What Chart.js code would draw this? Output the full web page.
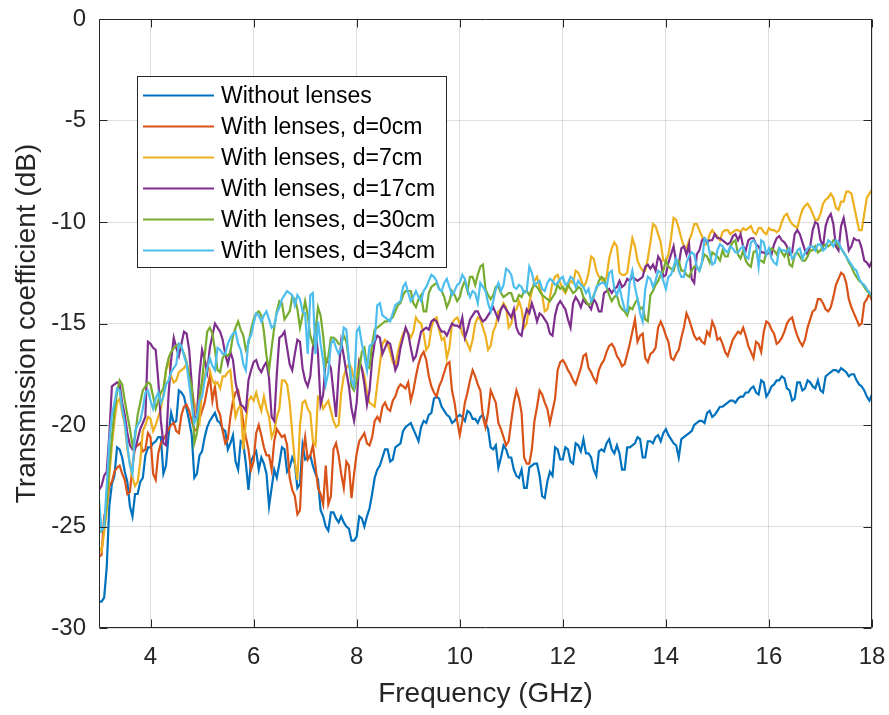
<!DOCTYPE html>
<html><head><meta charset="utf-8">
<script src="https://cdn.jsdelivr.net/npm/chart.js@4/dist/chart.umd.min.js"></script>
<style>html,body{margin:0;padding:0;background:#fff}canvas{display:block}</style>
</head><body>
<canvas id="c" width="889" height="715"></canvas>
<script>
// ---- data: frequencies (GHz) ----
const FREQ = [3.0,3.1,3.2,3.3,3.4,3.5,3.6,3.7,3.8,3.9,4.0,4.1,4.2,4.3,4.4,4.5,4.6,4.7,4.8,4.9,
5.0,5.1,5.2,5.3,5.4,5.5,5.6,5.7,5.8,5.9,6.0,6.1,6.2,6.3,6.4,6.5,6.6,6.7,6.8,6.9,
7.0,7.1,7.2,7.3,7.4,7.5,7.6,7.7,7.8,7.9,8.0,8.1,8.2,8.3,8.4,8.5,8.6,8.7,8.8,8.9,
9.0,9.1,9.2,9.3,9.4,9.5,9.6,9.7,9.8,9.9,10.0,10.1,10.2,10.3,10.4,10.5,10.6,10.7,10.8,10.9,
11.0,11.1,11.2,11.3,11.4,11.5,11.6,11.7,11.8,11.9,12.0,12.1,12.2,12.3,12.4,12.5,12.6,12.7,12.8,12.9,
13.0,13.1,13.2,13.3,13.4,13.5,13.6,13.7,13.8,13.9,14.0,14.1,14.2,14.3,14.4,14.5,14.6,14.7,14.8,14.9,
15.0,15.1,15.2,15.3,15.4,15.5,15.6,15.7,15.8,15.9,16.0,16.1,16.2,16.3,16.4,16.5,16.6,16.7,16.8,16.9,
17.0,17.1,17.2,17.3,17.4,17.5,17.6,17.7,17.8,17.9,18.0];

const FREQ_MID = [3.05,3.15,3.25,3.35,3.45,3.55,3.65,3.75,3.85,3.95,4.05,4.15,4.25,4.35,4.45,4.55,4.65,4.75,4.85,4.95,
5.05,5.15,5.25,5.35,5.45,5.55,5.65,5.75,5.85,5.95,6.05,6.15,6.25,6.35,6.45,6.55,6.65,6.75,6.85,6.95,
7.05,7.15,7.25,7.35,7.45,7.55,7.65,7.75,7.85,7.95,8.05,8.15,8.25,8.35,8.45,8.55,8.65,8.75,8.85,8.95,
9.05,9.15,9.25,9.35,9.45,9.55,9.65,9.75,9.85,9.95,10.05,10.15,10.25,10.35,10.45,10.55,10.65,10.75,10.85,10.95,
11.05,11.15,11.25,11.35,11.45,11.55,11.65,11.75,11.85,11.95,12.05,12.15,12.25,12.35,12.45,12.55,12.65,12.75,12.85,12.95,
13.05,13.15,13.25,13.35,13.45,13.55,13.65,13.75,13.85,13.95,14.05,14.15,14.25,14.35,14.45,14.55,14.65,14.75,14.85,14.95,
15.05,15.15,15.25,15.35,15.45,15.55,15.65,15.75,15.85,15.95,16.05,16.15,16.25,16.35,16.45,16.55,16.65,16.75,16.85,16.95,
17.05,17.15,17.25,17.35,17.45,17.55,17.65,17.75,17.85,17.95];

const X_TICKS = [4,6,8,10,12,14,16,18];
const Y_TICKS = [0,-5,-10,-15,-20,-25,-30];

const SERIES_LABELS = ['Without lenses','With lenses, d=0cm','With lenses, d=7cm','With lenses, d=17cm','With lenses, d=30cm','With lenses, d=34cm'];

// ---- Without lenses (dB) ----
const WITHOUT_LENSES = [-28.7,-28.5,-24.0,-22.5,-21.2,-22.3,-24.0,-23.4,-22.8,-21.5,
-21.1,-20.8,-20.6,-22.0,-19.4,-19.8,-18.4,-19.2,-20.5,-22.4,
-21.3,-20.1,-19.6,-19.8,-20.2,-21.2,-20.5,-22.2,-20.9,-23.2,
-21.5,-22.2,-21.9,-24.0,-22.2,-21.9,-21.2,-22.1,-21.9,-22.9,
-21.7,-21.5,-22.4,-24.2,-25.0,-24.3,-24.6,-24.5,-25.0,-25.7,
-25.5,-24.6,-24.5,-23.4,-22.2,-21.6,-21.2,-21.7,-21.0,-20.3,
-20.0,-20.2,-20.8,-19.8,-19.5,-18.7,-18.7,-19.3,-19.6,-19.8,
-19.5,-19.8,-19.4,-19.7,-19.6,-19.9,-21.1,-21.0,-21.6,-21.2,
-21.6,-22.5,-22.2,-23.1,-22.0,-21.9,-23.5,-22.8,-22.5,-21.2,
-21.7,-21.2,-21.9,-21.0,-20.7,-21.4,-22.2,-21.3,-21.3,-20.7,
-21.4,-21.4,-22.2,-21.1,-20.9,-20.7,-21.6,-20.8,-20.6,-20.8,
-20.2,-20.7,-21.0,-20.7,-20.5,-20.3,-19.9,-19.8,-19.4,-19.6,
-19.3,-19.1,-18.9,-18.8,-18.7,-18.6,-18.4,-18.1,-18.5,-17.9,
-18.4,-18.0,-17.8,-17.7,-18.3,-18.7,-17.9,-18.2,-17.9,-18.2,
-18.3,-17.6,-17.4,-17.3,-17.2,-17.4,-17.5,-17.8,-18.1,-18.6,
-18.5];
const WITHOUT_LENSES_MID = [-28.7,-27.0,-22.9,-21.1,-21.6,-22.8,-24.5,-23.4,-22.6,-21.1,
-20.9,-20.6,-22.4,-20.5,-19.9,-18.3,-18.6,-19.8,-22.6,-21.5,
-20.6,-19.8,-19.4,-19.9,-20.3,-20.9,-21.8,-20.8,-21.9,-21.8,
-21.3,-21.6,-22.4,-23.1,-22.6,-21.1,-22.3,-21.6,-23.1,-21.0,
-21.6,-22.0,-22.7,-24.5,-25.2,-24.3,-24.8,-24.8,-25.1,-25.7,
-24.5,-25.0,-24.1,-22.6,-22.0,-21.2,-21.8,-21.1,-20.9,-20.1,
-19.9,-20.5,-20.1,-19.9,-19.4,-18.6,-19.1,-19.5,-19.9,-19.6,
-19.6,-19.3,-19.7,-19.9,-19.5,-20.2,-21.2,-22.1,-21.0,-21.6,
-22.2,-22.6,-23.1,-22.1,-21.9,-22.5,-23.6,-22.3,-21.1,-21.7,
-21.1,-21.8,-20.9,-21.3,-21.4,-21.6,-22.5,-21.2,-20.9,-21.2,
-21.0,-22.2,-21.1,-21.0,-20.6,-21.6,-20.8,-20.9,-20.5,-20.4,
-20.5,-20.9,-21.6,-20.6,-20.4,-20.0,-19.8,-19.9,-19.3,-19.5,
-19.1,-19.0,-18.8,-18.9,-18.6,-18.4,-18.2,-18.4,-17.8,-18.6,
-18.1,-17.8,-17.6,-18.2,-18.8,-17.9,-18.3,-17.8,-18.1,-17.8,
-18.4,-17.5,-17.3,-17.4,-17.3,-17.6,-17.5,-18.0,-18.3,-18.8];

// ---- With lenses, d=0cm ----
const LENS_D0 = [-26.5,-24.5,-23.0,-22.3,-22.0,-22.7,-23.3,-21.1,-20.9,-21.2,
-20.6,-22.7,-20.9,-20.5,-20.0,-20.3,-19.5,-19.0,-19.8,-20.3,
-19.3,-18.2,-18.8,-19.2,-20.3,-20.7,-18.8,-18.3,-19.9,-21.2,
-21.8,-20.0,-21.1,-21.5,-20.8,-20.4,-20.5,-22.6,-23.5,-24.2,
-20.6,-21.5,-22.0,-23.4,-22.0,-23.5,-20.9,-22.4,-21.8,-23.6,
-21.4,-20.6,-20.9,-20.6,-19.6,-19.1,-19.2,-18.8,-18.2,-18.1,
-17.9,-18.3,-17.0,-16.4,-17.6,-18.4,-18.1,-17.4,-16.9,-18.9,
-20.5,-18.9,-17.8,-17.6,-18.3,-20.1,-18.3,-18.9,-20.2,-21.0,
-19.8,-18.3,-19.4,-21.9,-21.2,-19.1,-18.5,-19.2,-19.3,-17.3,
-16.8,-17.3,-17.8,-17.6,-16.6,-17.2,-17.7,-17.3,-16.8,-16.1,
-16.2,-16.8,-17.0,-16.0,-14.8,-15.6,-16.7,-16.5,-16.2,-14.9,
-15.6,-16.7,-16.5,-15.7,-14.5,-15.2,-15.8,-15.9,-15.4,-14.9,
-15.8,-16.0,-16.6,-15.8,-15.4,-15.2,-16.1,-16.7,-16.0,-15.4,
-15.0,-15.5,-15.9,-15.4,-14.8,-15.2,-15.9,-15.8,-14.8,-14.3,
-13.8,-14.3,-14.2,-13.1,-12.5,-13.0,-14.2,-14.8,-15.0,-13.8,
-13.9];
const LENS_D0_MID = [-26.4,-24.0,-22.8,-22.1,-22.4,-23.4,-22.0,-21.0,-21.3,-20.4,
-22.4,-21.4,-20.7,-20.2,-19.9,-20.4,-19.1,-19.3,-20.2,-19.7,
-18.9,-17.6,-18.1,-19.5,-20.9,-19.6,-18.4,-19.0,-20.6,-22.2,
-20.4,-20.5,-21.5,-22.2,-20.2,-20.6,-21.0,-23.2,-24.4,-21.5,
-21.7,-21.0,-23.1,-23.9,-23.9,-21.2,-21.5,-23.1,-22.0,-22.4,
-20.8,-20.4,-21.0,-19.8,-19.8,-18.9,-19.3,-18.6,-18.0,-18.2,
-18.8,-17.6,-16.6,-16.8,-18.1,-18.6,-17.8,-17.0,-18.3,-19.8,
-19.8,-18.4,-17.3,-18.0,-19.6,-19.4,-18.6,-19.9,-20.6,-20.8,
-18.9,-18.7,-21.6,-21.9,-19.8,-18.3,-18.9,-19.9,-18.7,-16.9,
-17.0,-17.5,-18.0,-17.2,-16.5,-17.4,-17.9,-17.0,-16.4,-16.0,
-16.6,-17.1,-16.5,-15.4,-15.9,-15.5,-16.9,-16.4,-15.2,-15.2,
-15.9,-16.8,-16.3,-15.2,-14.8,-15.6,-15.7,-16.0,-15.6,-15.2,
-15.7,-16.4,-16.2,-15.6,-15.5,-15.6,-16.4,-15.9,-16.4,-14.9,
-15.3,-16.0,-15.7,-15.0,-14.7,-15.6,-16.1,-15.2,-14.4,-13.8,
-14.0,-14.4,-13.7,-12.8,-12.6,-13.8,-14.5,-15.1,-14.0,-13.5];

// ---- With lenses, d=7cm ----
const LENS_D7 = [-26.0,-25.3,-22.5,-19.8,-18.7,-20.0,-21.9,-23.0,-21.8,-20.0,
-19.7,-20.0,-19.2,-17.3,-17.6,-17.8,-17.3,-17.0,-18.3,-19.6,
-18.2,-17.0,-17.8,-17.9,-17.6,-17.4,-18.6,-19.2,-21.2,-18.8,
-18.8,-18.9,-18.6,-19.6,-20.3,-19.2,-17.8,-18.9,-21.8,-20.0,
-18.8,-19.4,-21.0,-18.7,-19.0,-19.3,-20.1,-18.4,-17.2,-17.2,
-17.6,-17.2,-18.4,-19.0,-18.0,-16.0,-16.0,-16.9,-16.4,-15.5,
-15.5,-15.4,-14.9,-15.5,-16.1,-14.8,-15.3,-15.7,-16.2,-14.8,
-15.0,-15.7,-16.3,-15.0,-14.8,-15.6,-16.1,-15.1,-14.3,-14.2,
-15.0,-14.3,-14.3,-15.0,-13.4,-12.7,-13.6,-14.3,-13.0,-12.6,
-13.3,-13.2,-13.0,-12.5,-13.2,-12.5,-11.8,-12.7,-13.0,-11.8,
-11.0,-12.5,-12.6,-11.6,-11.2,-12.2,-12.4,-11.0,-10.2,-11.0,
-11.9,-10.8,-9.9,-10.8,-11.3,-10.6,-10.1,-10.7,-11.1,-10.4,
-10.7,-10.5,-10.4,-10.5,-10.4,-10.3,-10.3,-10.5,-10.3,-10.5,
-10.3,-10.4,-10.4,-9.7,-9.9,-10.2,-9.8,-9.2,-9.3,-9.9,
-9.6,-8.9,-8.6,-9.3,-9.0,-8.5,-8.6,-9.8,-10.4,-8.8,
-8.4];
const LENS_D7_MID = [-26.2,-24.2,-21.0,-18.9,-19.4,-21.2,-22.6,-22.8,-20.3,-19.6,
-20.3,-19.6,-18.5,-16.8,-17.9,-17.4,-17.2,-17.4,-18.9,-19.9,
-17.6,-17.3,-18.0,-18.2,-17.6,-17.3,-19.6,-19.0,-19.8,-18.6,
-18.4,-19.3,-19.2,-20.6,-19.6,-17.8,-18.0,-20.4,-22.7,-18.9,
-19.2,-20.8,-18.6,-19.2,-18.8,-19.8,-20.0,-17.6,-17.0,-17.8,
-16.8,-17.6,-18.9,-19.1,-17.0,-15.8,-16.4,-17.1,-15.9,-15.3,
-15.7,-14.7,-15.0,-16.3,-15.2,-14.7,-15.8,-16.7,-15.0,-14.7,
-15.5,-16.0,-15.8,-14.7,-15.2,-16.3,-15.4,-14.4,-14.0,-15.2,
-14.4,-13.9,-15.2,-14.0,-12.9,-13.2,-14.4,-13.7,-12.7,-13.0,
-13.5,-12.9,-12.4,-12.8,-13.0,-11.7,-12.4,-12.8,-12.7,-11.3,
-11.2,-12.6,-12.5,-10.8,-11.9,-12.4,-11.8,-10.1,-10.6,-11.9,
-11.6,-9.8,-10.3,-11.2,-10.9,-10.1,-10.4,-11.1,-10.6,-10.6,
-10.9,-10.4,-10.6,-10.4,-10.5,-10.4,-10.2,-10.6,-10.3,-10.6,
-10.4,-10.5,-10.0,-9.6,-10.1,-10.3,-9.4,-9.1,-9.6,-9.9,
-9.1,-8.8,-8.8,-9.4,-9.0,-8.5,-9.2,-10.4,-9.6,-8.6];

// ---- With lenses, d=17cm ----
const LENS_D17 = [-23.2,-22.5,-20.5,-18.0,-18.0,-19.5,-21.0,-21.2,-20.2,-19.6,
-16.0,-16.3,-19.8,-21.0,-16.8,-16.2,-16.0,-15.5,-18.0,-19.5,
-16.3,-17.4,-15.6,-15.2,-15.8,-17.0,-16.8,-18.5,-19.1,-17.8,
-16.9,-17.2,-17.1,-17.7,-19.8,-15.7,-15.4,-17.0,-16.5,-15.9,
-17.8,-17.6,-15.3,-19.0,-16.8,-17.2,-19.6,-15.9,-17.4,-19.2,
-18.9,-17.2,-19.0,-16.8,-15.6,-16.5,-15.9,-16.6,-17.0,-15.7,
-15.5,-16.8,-16.0,-15.3,-15.3,-14.8,-15.2,-15.4,-15.3,-15.1,
-15.2,-15.7,-14.8,-14.4,-14.7,-14.8,-14.4,-14.5,-14.3,-14.3,
-14.7,-15.2,-15.6,-14.3,-14.0,-14.9,-14.6,-15.0,-15.6,-14.1,
-14.1,-14.8,-14.0,-13.9,-13.8,-14.1,-13.8,-14.4,-13.5,-13.3,
-13.3,-12.9,-13.1,-12.9,-12.8,-12.8,-12.2,-12.3,-12.4,-11.9,
-12.6,-11.6,-12.0,-11.3,-11.6,-12.8,-11.6,-10.9,-11.0,-10.9,
-10.8,-10.9,-11.1,-10.7,-10.9,-11.2,-10.9,-10.8,-11.2,-11.5,
-11.5,-11.1,-10.7,-11.0,-11.6,-10.6,-10.6,-11.4,-11.2,-10.0,
-10.9,-10.2,-9.6,-11.2,-10.2,-10.5,-11.2,-10.9,-11.3,-12.0,
-11.9];
const LENS_D17_MID = [-23.0,-22.3,-18.1,-17.9,-18.9,-20.4,-21.2,-20.7,-19.9,-15.9,
-16.2,-17.8,-20.9,-18.5,-15.7,-16.6,-15.4,-16.3,-19.8,-17.5,
-16.8,-16.2,-15.0,-15.4,-16.5,-16.4,-17.9,-19.0,-19.3,-17.3,
-16.8,-17.4,-16.9,-19.6,-17.5,-15.6,-16.2,-17.3,-15.8,-17.2,
-18.1,-16.2,-16.5,-18.5,-16.9,-18.4,-17.4,-16.6,-18.1,-19.8,
-16.9,-18.0,-18.3,-15.9,-15.7,-16.2,-16.0,-17.3,-16.2,-15.2,
-16.2,-16.6,-15.4,-15.2,-14.9,-14.9,-15.4,-15.6,-15.0,-15.1,
-14.7,-15.3,-14.6,-14.4,-14.9,-14.6,-14.2,-14.8,-14.1,-14.5,
-14.3,-15.5,-14.8,-14.5,-14.4,-14.5,-14.8,-15.5,-14.6,-13.9,
-14.3,-15.2,-13.7,-14.2,-14.0,-14.3,-14.0,-14.4,-13.4,-13.5,
-13.2,-13.2,-12.8,-12.7,-12.9,-12.7,-12.1,-12.1,-11.7,-12.7,
-12.0,-11.2,-12.1,-11.2,-11.1,-13.0,-11.4,-10.8,-10.9,-10.6,
-10.8,-11.0,-11.0,-10.6,-10.6,-11.4,-10.8,-11.1,-11.5,-11.6,
-11.6,-10.8,-10.9,-11.2,-11.5,-10.4,-11.0,-11.6,-10.4,-10.1,
-11.2,-9.8,-10.1,-11.4,-9.8,-11.4,-10.8,-10.9,-11.9,-12.2];

// ---- With lenses, d=30cm ----
const LENS_D30 = [-25.3,-25.0,-22.0,-19.3,-17.8,-18.8,-20.2,-20.6,-18.9,-18.1,
-18.0,-19.2,-18.4,-17.3,-16.4,-16.1,-16.2,-16.9,-18.1,-20.4,
-17.8,-15.4,-15.5,-17.3,-16.7,-16.6,-15.6,-14.9,-15.6,-16.0,
-14.8,-14.4,-15.4,-17.3,-15.2,-13.9,-14.8,-14.4,-13.8,-15.2,
-13.9,-15.6,-15.5,-14.6,-17.0,-15.7,-15.8,-16.0,-15.9,-18.1,
-17.8,-16.4,-17.1,-16.0,-15.2,-15.0,-14.9,-14.7,-14.1,-13.6,
-13.4,-14.0,-13.8,-14.4,-13.5,-13.1,-13.3,-13.7,-13.9,-13.6,
-13.7,-12.9,-12.7,-13.1,-12.2,-13.3,-13.8,-13.2,-13.5,-13.6,
-13.5,-13.9,-13.7,-13.4,-13.3,-13.2,-13.6,-13.8,-13.7,-13.1,
-13.2,-13.1,-13.5,-13.2,-13.7,-14.1,-13.6,-12.9,-12.8,-13.6,
-13.7,-14.1,-14.4,-14.2,-14.0,-14.3,-14.8,-13.6,-13.1,-12.6,
-11.9,-12.3,-11.9,-12.4,-12.6,-12.4,-12.2,-12.0,-11.7,-11.5,
-11.7,-11.4,-11.7,-11.0,-11.6,-11.4,-12.1,-11.5,-11.9,-12.0,
-11.5,-11.4,-11.3,-11.7,-12.1,-11.6,-11.7,-11.9,-11.4,-11.2,
-11.4,-11.1,-11.1,-11.0,-11.3,-11.7,-12.2,-12.7,-13.0,-13.4,
-13.7];
const LENS_D30_MID = [-25.2,-23.8,-20.6,-18.4,-18.0,-19.5,-21.0,-19.5,-18.3,-17.9,
-18.6,-18.8,-18.2,-16.7,-16.2,-16.0,-16.5,-17.6,-20.9,-18.6,
-16.6,-15.2,-16.3,-17.4,-16.5,-16.4,-15.2,-15.3,-16.3,-15.3,
-14.5,-14.6,-16.6,-16.2,-14.4,-14.0,-14.6,-13.7,-14.3,-14.6,
-14.6,-16.0,-14.2,-15.6,-16.6,-15.7,-16.0,-15.6,-16.8,-18.3,
-17.3,-16.2,-17.2,-15.3,-15.1,-14.9,-14.8,-14.4,-14.0,-13.4,
-13.4,-14.2,-13.6,-14.4,-13.2,-13.0,-13.4,-14.2,-13.4,-13.9,
-13.2,-13.4,-12.7,-12.6,-12.1,-13.6,-13.6,-13.2,-13.7,-13.5,
-13.9,-13.6,-13.4,-13.6,-13.1,-13.4,-13.7,-13.9,-13.5,-13.3,
-13.4,-13.3,-13.4,-13.3,-13.9,-14.0,-13.3,-12.7,-13.2,-13.9,
-13.6,-14.3,-14.6,-14.3,-13.8,-14.2,-14.9,-13.4,-12.9,-12.4,
-12.2,-12.4,-11.9,-12.4,-12.7,-12.2,-12.4,-11.6,-12.0,-11.6,
-11.9,-11.7,-11.2,-10.9,-11.8,-11.9,-12.2,-11.4,-11.9,-11.5,
-11.3,-11.6,-11.5,-11.4,-12.2,-11.5,-11.9,-11.7,-11.4,-11.5,
-11.2,-11.2,-10.9,-11.2,-11.5,-12.0,-12.5,-12.9,-13.2,-13.5];

// ---- With lenses, d=34cm ----
const LENS_D34 = [-23.7,-25.0,-20.8,-18.9,-18.3,-19.9,-22.0,-20.3,-19.8,-18.4,
-18.8,-18.7,-18.9,-18.0,-17.4,-17.0,-16.1,-17.0,-19.0,-19.6,
-18.6,-17.2,-17.1,-16.2,-16.5,-16.0,-15.5,-16.0,-17.0,-15.8,
-15.0,-14.6,-14.6,-14.8,-15.1,-14.2,-13.6,-13.5,-14.1,-13.8,
-14.5,-13.6,-16.5,-16.0,-18.0,-16.0,-16.2,-16.2,-15.3,-17.8,
-15.4,-16.0,-17.3,-16.0,-14.1,-14.6,-14.8,-14.5,-14.0,-13.2,
-13.5,-13.7,-13.7,-13.4,-12.9,-12.7,-13.3,-13.0,-13.2,-13.4,
-13.0,-12.8,-13.7,-13.5,-13.0,-13.4,-14.4,-13.3,-13.4,-12.3,
-12.6,-13.3,-13.2,-13.4,-12.5,-13.0,-13.3,-13.0,-12.9,-13.0,
-12.7,-13.0,-12.8,-12.9,-13.2,-13.3,-13.7,-13.1,-13.0,-12.5,
-13.3,-13.2,-14.3,-12.9,-13.2,-14.5,-13.3,-12.8,-12.9,-12.5,
-13.3,-12.6,-11.8,-12.7,-12.0,-11.5,-12.2,-12.0,-10.9,-12.1,
-11.4,-11.2,-11.5,-11.3,-11.5,-11.2,-11.8,-10.9,-12.2,-11.0,
-11.3,-12.0,-11.3,-11.4,-11.3,-11.7,-11.3,-11.5,-11.2,-11.4,
-11.1,-11.3,-11.0,-10.9,-11.3,-11.7,-12.1,-12.4,-13.0,-13.3,
-13.6];
const LENS_D34_MID = [-25.2,-23.0,-19.5,-18.2,-19.2,-21.0,-22.4,-20.0,-19.2,-18.3,
-19.2,-18.4,-18.6,-17.8,-17.2,-16.0,-16.6,-18.0,-19.9,-18.8,
-17.8,-16.7,-17.3,-16.3,-16.5,-15.7,-15.4,-16.3,-17.3,-15.6,
-14.5,-14.9,-14.4,-15.2,-14.5,-13.8,-13.4,-13.6,-13.6,-14.4,
-16.5,-13.5,-14.9,-16.8,-17.4,-15.8,-16.5,-15.2,-16.9,-18.1,
-15.2,-16.6,-16.1,-15.8,-14.0,-14.7,-14.9,-14.1,-13.9,-13.0,
-13.9,-13.4,-13.9,-13.2,-12.6,-12.9,-13.4,-12.8,-13.6,-13.1,
-12.6,-13.3,-13.4,-14.0,-13.2,-14.0,-13.9,-13.0,-13.1,-12.4,
-13.2,-13.1,-13.5,-12.2,-13.1,-12.9,-13.4,-12.8,-13.1,-12.8,
-13.1,-12.7,-13.2,-13.1,-13.5,-13.9,-13.2,-13.0,-13.2,-12.4,
-13.6,-13.8,-14.4,-12.4,-13.8,-14.9,-12.7,-13.2,-12.4,-12.9,
-12.7,-12.2,-12.4,-12.7,-11.7,-11.6,-12.4,-10.8,-11.5,-12.0,
-11.1,-11.4,-11.2,-11.5,-11.3,-11.7,-11.0,-11.1,-10.9,-11.6,
-11.8,-12.1,-11.4,-11.5,-11.8,-11.4,-11.8,-11.3,-11.2,-11.1,
-11.4,-10.9,-11.2,-11.0,-11.5,-11.9,-12.3,-12.8,-13.1,-13.5];

const SERIES = [
  [WITHOUT_LENSES, WITHOUT_LENSES_MID],
  [LENS_D0, LENS_D0_MID],
  [LENS_D7, LENS_D7_MID],
  [LENS_D17, LENS_D17_MID],
  [LENS_D30, LENS_D30_MID],
  [LENS_D34, LENS_D34_MID]
];
const COLORS = ['#0072BD','#D95319','#EDB120','#7E2F8E','#77AC30','#4DBEEE'];

// ---- styling ----
const FONT_FAMILY = '"Liberation Sans", Arial, Helvetica, sans-serif';
const INK = '#262626';

function mergePoints(main, mid) {
  const pts = [];
  for (let i = 0; i < FREQ.length; i++) {
    pts.push({x: FREQ[i], y: main[i]});
    if (i < FREQ_MID.length) pts.push({x: FREQ_MID[i], y: mid[i]});
  }
  return pts;
}

const datasets = SERIES.map(([main, mid], k) => ({
  label: SERIES_LABELS[k],
  data: mergePoints(main, mid),
  borderColor: COLORS[k],
  backgroundColor: COLORS[k],
  borderWidth: 2.2,
  pointRadius: 0,
  tension: 0,
  fill: false,
  order: SERIES.length - 1 - k
}));

const framePlugin = {
  id: 'matlabFrame',
  afterDatasetsDraw(chart) {
    const {ctx, chartArea: a, scales: {x, y}} = chart;
    ctx.save();
    ctx.strokeStyle = INK;
    ctx.lineWidth = 1;
    const L = Math.round(a.left) + 0.5, R = Math.round(a.right) - 0.5;
    const T = Math.round(a.top) + 0.5, B = Math.round(a.bottom) - 0.5;
    ctx.beginPath();
    ctx.rect(L, T, R - L, B - T);
    const tl = 8;
    Y_TICKS.forEach(v => {
      const p = Math.round(y.getPixelForValue(v)) + 0.5;
      ctx.moveTo(L, p); ctx.lineTo(L + tl, p);
      ctx.moveTo(R, p); ctx.lineTo(R - tl, p);
    });
    X_TICKS.forEach(v => {
      const p = Math.round(x.getPixelForValue(v)) + 0.5;
      ctx.moveTo(p, B); ctx.lineTo(p, B - tl);
      ctx.moveTo(p, T); ctx.lineTo(p, T + tl);
    });
    ctx.stroke();
    ctx.restore();
  }
};

const legendPlugin = {
  id: 'insideLegend',
  afterDraw(chart) {
    const {ctx} = chart;
    const box = {x: 137.5, y: 76.5, w: 309, h: 191};
    ctx.save();
    ctx.fillStyle = '#ffffff';
    ctx.fillRect(box.x, box.y, box.w, box.h);
    ctx.strokeStyle = INK;
    ctx.lineWidth = 1;
    ctx.strokeRect(box.x, box.y, box.w, box.h);
    ctx.font = '23px ' + FONT_FAMILY;
    ctx.textBaseline = 'middle';
    ctx.textAlign = 'left';
    chart.data.datasets.forEach((ds, i) => {
      const cy = 95.5 + i * 31;
      ctx.strokeStyle = ds.borderColor;
      ctx.lineWidth = 2;
      ctx.beginPath();
      ctx.moveTo(143, cy); ctx.lineTo(214, cy);
      ctx.stroke();
      ctx.fillStyle = '#000000';
      ctx.fillText(ds.label, 221, cy + 1);
    });
    ctx.restore();
  }
};

new Chart(document.getElementById('c'), {
  type: 'line',
  data: {datasets},
  options: {
    responsive: false,
    devicePixelRatio: 1,
    animation: false,
    events: [],
    layout: {padding: {top: 19, right: 17, left: 0, bottom: 0}},
    plugins: {legend: {display: false}, tooltip: {enabled: false}},
    scales: {
      x: {
        type: 'linear', min: 3, max: 18,
        afterBuildTicks: s => { s.ticks = X_TICKS.map(v => ({value: v})); },
        afterFit: s => { s.height = 87; },
        grid: {color: 'rgba(38,38,38,0.15)', drawTicks: true, tickLength: 17, tickColor: 'rgba(0,0,0,0)', lineWidth: 1},
        border: {display: false},
        ticks: {color: INK, font: {family: FONT_FAMILY, size: 24, lineHeight: 1}, padding: 0, maxRotation: 0, autoSkip: false,
                callback: v => String(v)},
        title: {display: true, text: 'Frequency (GHz)', color: INK,
                font: {family: FONT_FAMILY, size: 28, lineHeight: 1}, padding: {top: 0, bottom: 7}}
      },
      y: {
        type: 'linear', min: -30, max: 0,
        afterBuildTicks: s => { s.ticks = Y_TICKS.map(v => ({value: v})); },
        afterFit: s => { s.width = 99; },
        grid: {color: 'rgba(38,38,38,0.15)', drawTicks: true, tickLength: 13, tickColor: 'rgba(0,0,0,0)', lineWidth: 1},
        border: {display: false},
        ticks: {color: INK, font: {family: FONT_FAMILY, size: 24, lineHeight: 1}, padding: 0, autoSkip: false,
                callback: v => String(v)},
        title: {display: true, text: 'Transmission coefficient (dB)', color: INK,
                font: {family: FONT_FAMILY, size: 28, lineHeight: 1}, padding: {top: 13, bottom: 0}}
      }
    }
  },
  plugins: [framePlugin, legendPlugin]
});
</script>
</body></html>
